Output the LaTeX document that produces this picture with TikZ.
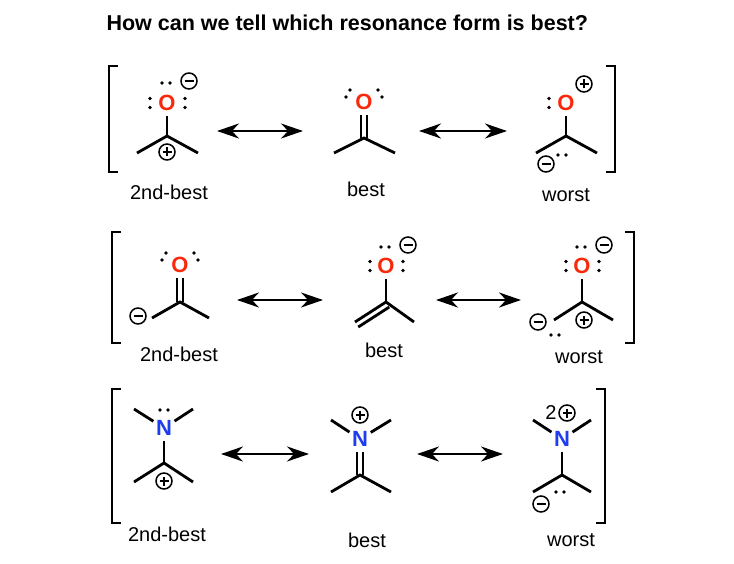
\documentclass[tikz,border=0pt]{standalone}
\usepackage{fontspec}
\setmainfont{Liberation Sans}
\usetikzlibrary{arrows.meta,calc}
\definecolor{ored}{RGB}{250,40,10}
\definecolor{nblue}{RGB}{30,60,240}
\tikzset{
  atomO/.style={circle,inner sep=1pt,text=ored,font=\fontsize{22}{22}\selectfont\bfseries},
  atomN/.style={circle,inner sep=1pt,text=nblue,font=\fontsize{22}{22}\selectfont\bfseries},
  bond/.style={line width=2.8pt},
  resarrow/.style={line width=2.8pt,{Stealth[length=22pt,width=15pt]}-{Stealth[length=22pt,width=15pt]}},
  brk/.style={line width=2.8pt},
  lbl/.style={font=\fontsize{20}{20}\selectfont},
  chg/.style={circle,draw,line width=1.5pt,minimum size=16pt,inner sep=0pt},
  pluscharge/.style={chg,path picture={\draw[line width=1.5pt] ([xshift=-4.5pt]path picture bounding box.center) -- ++(9pt,0);\draw[line width=1.5pt] ([yshift=-4.5pt]path picture bounding box.center) -- ++(0,9pt);}},
  minuscharge/.style={chg,path picture={\draw[line width=1.5pt] ([xshift=-4.5pt]path picture bounding box.center) -- ++(9pt,0);}},
}
\newcommand\dotat[2]{\fill (#1,#2) circle (1.8);}
\newcommand\colonat[2]{\fill (#1,#2-4.5) circle (1.8); \fill (#1,#2+4.5) circle (1.8);}
\newcommand\hpairat[2]{\fill (#1-4,#2) circle (1.8); \fill (#1+4,#2) circle (1.8);}
\begin{document}
\begin{tikzpicture}[x=1pt,y=-1pt]
\useasboundingbox (0,0) rectangle (734,564);
\node[font=\bfseries\fontsize{21.5}{21.5}\selectfont,anchor=west] (title) at (103,23) {How can we tell which resonance form is best?};

% ---------- Row 1 ----------
\draw[brk] (118,66) -- (109,66) -- (109,172) -- (118,172);
\draw[brk] (606,66) -- (615,66) -- (615,172) -- (606,172);
% mol 1
\node[atomO] (O11) at (167,103) {O};
\coordinate (C11) at (167,136);
\coordinate (L11) at (137,153); \coordinate (R11) at (198,153);
\draw[bond] (O11) -- (C11); \draw[bond] (L11) -- (C11) -- (R11);
\node[pluscharge] (p11) at (167,152) {};
\colonat{150}{103} \colonat{185}{103} \hpairat{166}{83}
\node[minuscharge] (m11) at (189,81) {};
% arrow
\coordinate (a1s) at (217,131); \coordinate (a1e) at (303,131);
\draw[resarrow] (a1s) -- (a1e);
% mol 2
\node[atomO] (O12) at (364,102) {O};
\coordinate (C12) at (364,138);
\coordinate (L12) at (334,153); \coordinate (R12) at (395,153);
\draw[bond] ([xshift=-3pt]O12.south) -- ([xshift=-3pt]C12);
\draw[bond] ([xshift=3pt]O12.south) -- ([xshift=3pt]C12);
\draw[bond] (L12) -- (C12) -- (R12);
\dotat{346}{97} \dotat{350}{90} \dotat{378}{90} \dotat{382}{97}
% arrow
\coordinate (a2s) at (419,131); \coordinate (a2e) at (507,131);
\draw[resarrow] (a2s) -- (a2e);
% mol 3
\node[atomO] (O13) at (566,103) {O};
\coordinate (C13) at (566,136);
\coordinate (L13) at (536,153); \coordinate (R13) at (597,153);
\draw[bond] (O13) -- (C13); \draw[bond] (L13) -- (C13) -- (R13);
\colonat{549}{103}
\node[pluscharge] (p13) at (584,84) {};
\node[minuscharge] (m13) at (546,164) {};
\hpairat{562}{155}
\node[lbl] (t11) at (169,192) {2nd-best};
\node[lbl] (t12) at (366,189) {best};
\node[lbl] (t13) at (566,195) {worst};

% ---------- Row 2 ----------
\draw[brk] (121,232) -- (112,232) -- (112,343) -- (121,343);
\draw[brk] (625,232) -- (634,232) -- (634,343) -- (625,343);
% mol 1
\node[atomO] (O21) at (180,265) {O};
\coordinate (C21) at (180,302);
\coordinate (L21) at (152,318); \coordinate (R21) at (209,318);
\draw[bond] ([xshift=-3pt]O21.south) -- ([xshift=-3pt]C21);
\draw[bond] ([xshift=3pt]O21.south) -- ([xshift=3pt]C21);
\draw[bond] (L21) -- (C21) -- (R21);
\dotat{162}{260} \dotat{166}{253} \dotat{194}{253} \dotat{198}{260}
\node[minuscharge] (m21) at (138,316) {};
% arrow
\coordinate (a3s) at (237,300); \coordinate (a3e) at (323,300);
\draw[resarrow] (a3s) -- (a3e);
% mol 2
\node[atomO] (O22) at (386,266) {O};
\coordinate (C22) at (386,302);
\coordinate (L22) at (355,322); \coordinate (R22) at (414,322);
\draw[bond] (O22) -- (C22); \draw[bond] (L22) -- (C22) -- (R22);
\draw[bond] ($(C22)!6pt!90:(L22)$) -- ($(L22)!6pt!-90:(C22)$);
\colonat{370}{266} \colonat{403}{266} \hpairat{385}{247}
\node[minuscharge] (m22) at (408,245) {};
% arrow
\coordinate (a4s) at (436,300); \coordinate (a4e) at (521,300);
\draw[resarrow] (a4s) -- (a4e);
% mol 3
\node[atomO] (O23) at (582,266) {O};
\coordinate (C23) at (582,302);
\coordinate (L23) at (554,320); \coordinate (R23) at (613,320);
\draw[bond] (O23) -- (C23); \draw[bond] (L23) -- (C23) -- (R23);
\colonat{566}{266} \colonat{599}{266} \hpairat{581}{247}
\node[minuscharge] (m23) at (604,245) {};
\node[pluscharge] (p23) at (584,320) {};
\node[minuscharge] (m23b) at (538,322) {};
\hpairat{555}{335}
\node[lbl] (t21) at (179,354) {2nd-best};
\node[lbl] (t22) at (384,350) {best};
\node[lbl] (t23) at (579,357) {worst};

% ---------- Row 3 ----------
\draw[brk] (121,389) -- (112,389) -- (112,523) -- (121,523);
\draw[brk] (596,389) -- (605,389) -- (605,523) -- (596,523);
% mol 1
\node[atomN] (N31) at (164,428) {N};
\coordinate (UL31) at (134,409); \coordinate (UR31) at (193,409);
\coordinate (C31) at (164,463);
\coordinate (L31) at (134,482); \coordinate (R31) at (193,482);
\draw[bond] (UL31) -- (N31) -- (UR31);
\draw[bond] (N31) -- (C31); \draw[bond] (L31) -- (C31) -- (R31);
\hpairat{164}{410}
\node[pluscharge] (p31) at (164,481) {};
% arrow
\coordinate (a5s) at (221,454); \coordinate (a5e) at (309,454);
\draw[resarrow] (a5s) -- (a5e);
% mol 2
\node[atomN] (N32) at (360,439) {N};
\coordinate (UL32) at (331,420); \coordinate (UR32) at (391,420);
\coordinate (C32) at (360,475);
\coordinate (L32) at (331,492); \coordinate (R32) at (391,492);
\draw[bond] (UL32) -- (N32) -- (UR32);
\draw[bond] ([xshift=-3pt]N32.south) -- ([xshift=-3pt]C32);
\draw[bond] ([xshift=3pt]N32.south) -- ([xshift=3pt]C32);
\draw[bond] (L32) -- (C32) -- (R32);
\node[pluscharge] (p32) at (360,415) {};
% arrow
\coordinate (a6s) at (417,454); \coordinate (a6e) at (503,454);
\draw[resarrow] (a6s) -- (a6e);
% mol 3
\node[atomN] (N33) at (562,439) {N};
\coordinate (UL33) at (533,420); \coordinate (UR33) at (591,420);
\coordinate (C33) at (562,475);
\coordinate (L33) at (533,492); \coordinate (R33) at (591,492);
\draw[bond] (UL33) -- (N33) -- (UR33);
\draw[bond] (N33) -- (C33); \draw[bond] (L33) -- (C33) -- (R33);
\node[lbl] (two33) at (551,413) {2};
\node[pluscharge] (p33) at (567,413) {};
\node[minuscharge] (m33) at (541,504) {};
\hpairat{560}{492}
\node[lbl] (t31) at (167,534) {2nd-best};
\node[lbl] (t32) at (367,540) {best};
\node[lbl] (t33) at (571,540) {worst};
\end{tikzpicture}
\end{document}
